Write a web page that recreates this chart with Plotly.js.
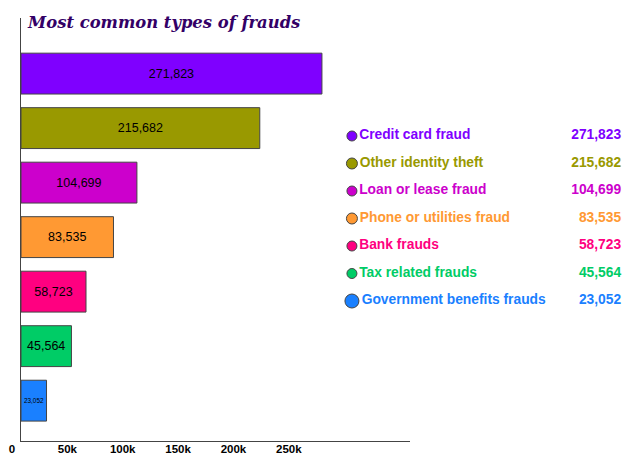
<!DOCTYPE html>
<html>
<head>
<meta charset="utf-8">
<script src="https://cdn.plot.ly/plotly-3.0.1.min.js"></script>
<style>
  html, body { margin: 0; padding: 0; background: #fff; }
  #chart { width: 624px; height: 455px; }
</style>
</head>
<body>
<div id="chart"></div>
<script>
// fraud categories, top to bottom
const categories = [
  "Credit card fraud",
  "Other identity theft",
  "Loan or lease fraud",
  "Phone or utilities fraud",
  "Bank frauds",
  "Tax related frauds",
  "Government benefits frauds",
];
const reports = [271823, 215682, 104699, 83535, 58723, 45564, 23052];
const colors = ["#7f00ff", "#999900", "#cc00cc", "#ff9933", "#ff0080", "#00cc66", "#1a80ff"];
const tickVals = [0, 50000, 100000, 150000, 200000, 250000];
const tickText = ["0", "50k", "100k", "150k", "200k", "250k"];

const fmt = (v) => v.toLocaleString("en-US");
const idx = categories.map((_, i) => i);

// main bars
const bars = {
  type: "bar",
  orientation: "h",
  x: reports,
  y: categories,
  text: reports.map(fmt),
  textposition: "inside",
  insidetextanchor: "middle",
  textangle: 0,
  textfont: { family: "Liberation Sans", size: 12.5, color: "#000" },
  marker: { color: colors, line: { color: "#444", width: 1 } },
  hoverinfo: "none",
  xaxis: "x",
  yaxis: "y",
};

// custom legend: dots + names
const legendDots = {
  type: "scatter",
  mode: "markers+text",
  x: idx.map(() => 0.06),
  y: idx,
  text: categories,
  textposition: "middle right",
  textfont: { family: "Liberation Sans", size: 13.8, weight: "bold", color: colors },
  marker: {
    color: colors,
    opacity: 1,
    size: [10, 11, 10, 11, 10, 10, 14],
    line: { color: "#444", width: 1 },
  },
  hoverinfo: "none",
  xaxis: "x2",
  yaxis: "y2",
};

// custom legend: values on the right
const legendValues = {
  type: "scatter",
  mode: "text",
  x: idx.map(() => 0.99),
  y: idx,
  text: reports.map(fmt),
  textposition: "middle left",
  textfont: { family: "Liberation Sans", size: 13.8, weight: "bold", color: colors },
  hoverinfo: "none",
  xaxis: "x2",
  yaxis: "y2",
};

const layout = {
  width: 624,
  height: 455,
  margin: { l: 21, r: 0, t: 18, b: 14 },
  paper_bgcolor: "#fff",
  plot_bgcolor: "rgba(0,0,0,0)",
  showlegend: false,
  bargap: 0.25,
  title: {
    text: "Most common types of frauds",
    font: { family: "DejaVu Serif", size: 16.4, weight: "bold", style: "italic", color: "#330066" },
    x: 0.045,
    xanchor: "left",
    y: 0.95,
    yanchor: "middle",
  },
  xaxis: {
    domain: [0, 0.645],
    range: [0, 351300],
    tickvals: tickVals,
    ticktext: tickText,
    ticklabelshift: -9,
    ticklabelstandoff: -3,
    showgrid: false,
    zeroline: false,
    showline: true,
    linecolor: "#444",
    linewidth: 1,
    tickfont: { family: "Liberation Sans", size: 11.5, weight: "bold", color: "#000" },
    fixedrange: true,
  },
  yaxis: {
    type: "category",
    range: [6.74, -1.02],
    showticklabels: false,
    showgrid: false,
    zeroline: false,
    showline: true,
    linecolor: "#444",
    linewidth: 1,
    fixedrange: true,
  },
  xaxis2: {
    domain: [0.52, 1],
    range: [0, 1],
    anchor: "y2",
    visible: false,
    fixedrange: true,
  },
  yaxis2: {
    domain: [0, 1],
    range: [11.09, -4.29],
    anchor: "x2",
    visible: false,
    fixedrange: true,
  },
};

Plotly.newPlot("chart", [bars, legendDots, legendValues], layout, { displayModeBar: false });
</script>
</body>
</html>
